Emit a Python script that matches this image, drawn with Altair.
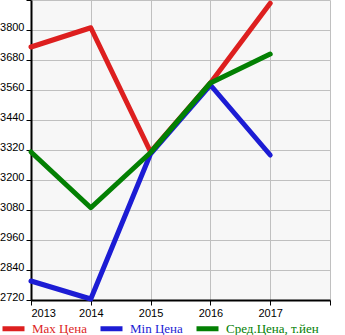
import altair as alt
import pandas as pd

years = [2013, 2014, 2015, 2016, 2017]
max_price = [3732, 3809, 3312, 3588, 3907]
min_price = [2796, 2724, 3305, 3580, 3300]
avg_price = [3312, 3089, 3310, 3588, 3704]
series_names = ["Max Цена", "Min Цена", "Сред.Цена, т.йен"]
series_colors = ["#dd1f1f", "#1c1cd4", "#038003"]

rows = []
for name, vals in zip(series_names, [max_price, min_price, avg_price]):
    for y, v in zip(years, vals):
        rows.append({"year": y, "price": v, "series": name})
df = pd.DataFrame(rows)

x_ticks = [2013 + 0.5 * i for i in range(11)]
y_ticks = [2720 + 120 * i for i in range(11)]

label_color_expr = (
    f"datum.label == '{series_names[0]}' ? '{series_colors[0]}' : "
    f"(datum.label == '{series_names[1]}' ? '{series_colors[1]}' : '{series_colors[2]}')"
)

chart = alt.Chart(df).mark_line(strokeWidth=5, strokeCap="round", strokeJoin="round").encode(
    x=alt.X("year:Q", scale=alt.Scale(domain=[2013, 2018], nice=False),
            axis=alt.Axis(values=x_ticks, title=None, format="d",
                          labelExpr="(datum.value % 1 == 0 && datum.value < 2018) ? datum.label : ''",
                          labelPadding=2, labelBaseline="top")),
    y=alt.Y("price:Q", scale=alt.Scale(domain=[2720, 3920], nice=False, zero=False),
            axis=alt.Axis(values=y_ticks, title=None, format="d",
                          labelExpr="datum.value < 3900 ? datum.label : ''",
                          labelPadding=2, labelBaseline="alphabetic")),
    color=alt.Color("series:N",
                    scale=alt.Scale(domain=series_names, range=series_colors),
                    sort=series_names,
                    legend=alt.Legend(title=None, orient="none", direction="horizontal",
                                      legendX=-31, legendY=315, padding=0,
                                      symbolType="stroke", symbolSize=484, symbolStrokeWidth=5,
                                      labelFontSize=13, labelFont="Liberation Serif",
                                      labelColor=alt.ExprRef(label_color_expr),
                                      columnPadding=3, labelOffset=5)),
).properties(
    width=299, height=300,
    autosize=alt.AutoSizeParams(type="none"),
    padding={"left": 31, "top": 0, "right": 15, "bottom": 35},
).configure_view(
    fill="#f7f7f7", strokeWidth=0
).configure_axis(
    labelFont="Liberation Sans", labelFontSize=11, labelColor="#000000",
    gridColor="#c0c0c0", gridWidth=1, gridOpacity=1,
    domainColor="#000000", domainWidth=2,
    tickColor="#000000", tickSize=5, tickWidth=1,
)

chart.save("out.html", embed_options={"renderer": "svg", "actions": False})
